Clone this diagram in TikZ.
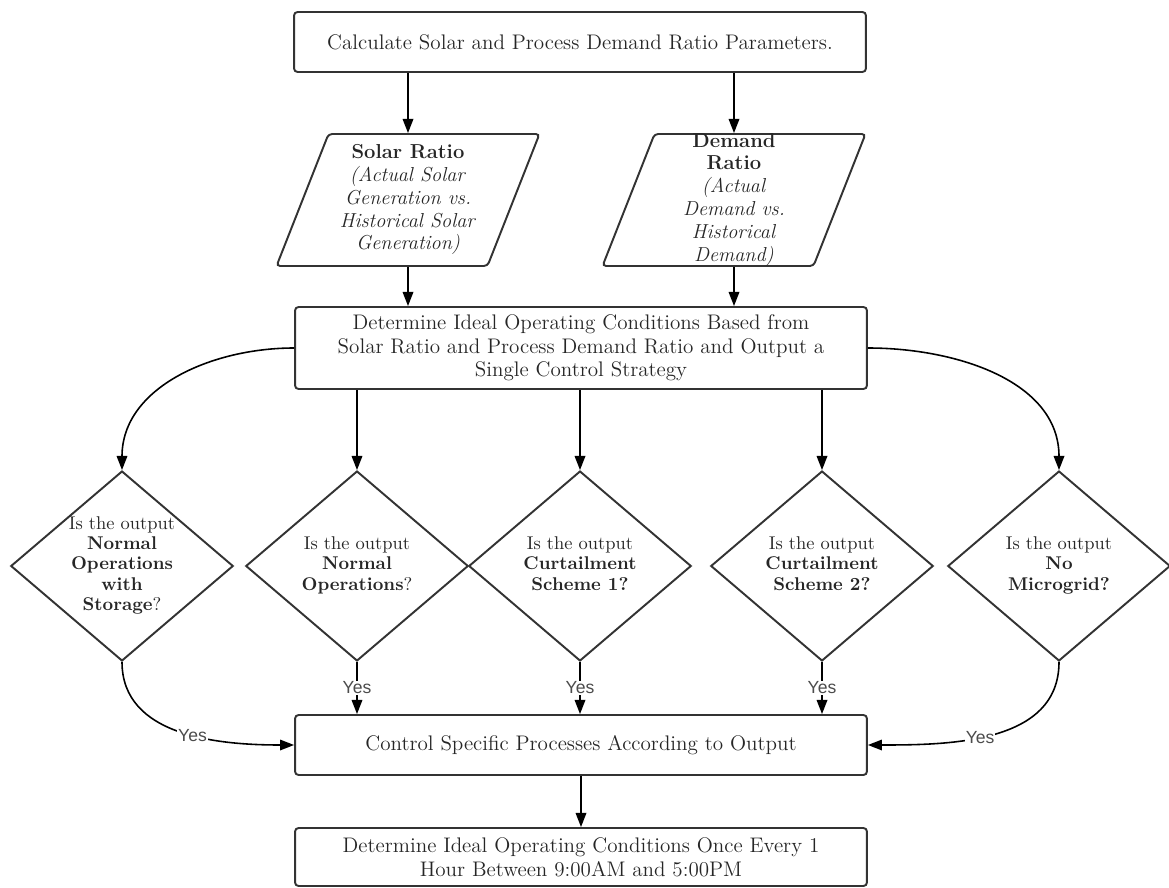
\documentclass[tikz,border=0pt]{standalone}
\usepackage{fontspec}
\setsansfont{Liberation Sans}
\usetikzlibrary{arrows.meta, shapes.geometric}

% text of a decision: centred, takes no room, so the shape keeps its size
\newcommand{\qtext}[1]{\makebox[0pt]{\smash{\raisebox{-2.6pt}{\begin{tabular}{@{}c@{}}#1\end{tabular}}}}}
% text of a data block, with a strut that fixes the height
\newcommand{\ptext}[1]{\makebox[0pt]{\smash{\raisebox{-2.8pt}{\begin{tabular}{@{}c@{}}#1\end{tabular}}}}\rule[-1.32cm]{0pt}{2.64cm}}

\begin{document}
\begin{tikzpicture}[x=0.02cm, y=-0.02cm]

    \useasboundingbox (0,0) rectangle (1169,888);

    \tikzset{
    % boxes, data blocks and decisions
    procbox/.style={rectangle, draw=black!80, line width=1.1pt, rounded corners=2pt,
        minimum width=11.44cm, align=center, text=black!85,
        font=\fontsize{12}{13.5}\selectfont},
    databox/.style={trapezium, trapezium left angle=68.5, trapezium right angle=111.5,
        trapezium stretches body=true, draw=black!80, line width=1.1pt, rounded corners=2pt,
        minimum width=5.26cm, inner sep=0pt, text=black!85,
        font=\fontsize{11.5}{13}\selectfont},
    question/.style={diamond, draw=black!80, line width=1.1pt, minimum width=4.45cm,
        minimum height=3.8cm, inner sep=0pt, text=black!85,
        font=\fontsize{10.5}{11.5}\selectfont},
    % connectors
    arr/.style={line width=0.9pt, -{Triangle[length=8pt,width=6pt]}},
    yes/.style={font=\sffamily\fontsize{10}{12}\selectfont, text=black!70, fill=white, inner sep=0.5pt}
    }

    % top part
    \node[procbox, minimum height=1.2cm] (calc) at (580,42)
        {Calculate Solar and Process Demand Ratio Parameters.};

    \node[databox] (solar) at (408,200)
        {\ptext{\textbf{Solar Ratio}\\ \textit{(Actual Solar}\\ \textit{Generation vs.}\\
        \textit{Historical Solar}\\ \textit{Generation)}}};
    \node[databox] (demand) at (734,200)
        {\ptext{\textbf{Demand}\\ \textbf{Ratio}\\ \textit{(Actual}\\ \textit{Demand vs.}\\
        \textit{Historical}\\ \textit{Demand)}}};

    \node[procbox, minimum height=1.64cm] (decide) at (581,348)
        {Determine Ideal Operating Conditions Based from\\
        Solar Ratio and Process Demand Ratio and Output a\\ Single Control Strategy};

    % the five decisions
    \node[question] (qstore) at (122,566)
        {\qtext{Is the output\\ \textbf{Normal}\\ \textbf{Operations}\\ \textbf{with}\\ \textbf{Storage}?}};
    \node[question] (qnormal) at (357,566)
        {\qtext{Is the output\\ \textbf{Normal}\\ \textbf{Operations}?}};
    \node[question] (qcurtA) at (580,566)
        {\qtext{Is the output\\ \textbf{Curtailment}\\ \textbf{Scheme 1?}}};
    \node[question] (qcurtB) at (822,566)
        {\qtext{Is the output\\ \textbf{Curtailment}\\ \textbf{Scheme 2?}}};
    \node[question] (qnogrid) at (1059,566)
        {\qtext{Is the output\\ \textbf{No}\\ \textbf{Microgrid?}}};

    % bottom part
    \node[procbox, minimum height=1.2cm] (control) at (581,745)
        {Control Specific Processes According to Output};
    \node[procbox, minimum height=1.16cm] (hourly) at (581,857)
        {Determine Ideal Operating Conditions Once Every 1\\ Hour Between 9:00AM and 5:00PM};

    % connectors
    \draw[arr] (solar.north |- calc.south) -- (solar.north);
    \draw[arr] (demand.north |- calc.south) -- (demand.north);
    \draw[arr] (solar.south) -- (solar.south |- decide.north);
    \draw[arr] (demand.south) -- (demand.south |- decide.north);

    \draw[arr] (decide.west) to[out=180, in=90] (qstore.north);
    \draw[arr] (qnormal.north |- decide.south) -- (qnormal.north);
    \draw[arr] (qcurtA.north |- decide.south) -- (qcurtA.north);
    \draw[arr] (qcurtB.north |- decide.south) -- (qcurtB.north);
    \draw[arr] (decide.east) to[out=0, in=90] (qnogrid.north);

    \draw[arr] (qstore.south) to[out=-90, in=180] node[yes, pos=0.56] {Yes} (control.west);
    \draw[arr] (qnormal.south) -- node[yes] {Yes} (qnormal.south |- control.north);
    \draw[arr] (qcurtA.south) -- node[yes] {Yes} (qcurtA.south |- control.north);
    \draw[arr] (qcurtB.south) -- node[yes] {Yes} (qcurtB.south |- control.north);
    \draw[arr] (qnogrid.south) to[out=-90, in=0] node[yes, pos=0.56] {Yes} (control.east);

    \draw[arr] (control.south) -- (hourly.north);

\end{tikzpicture}
\end{document}
